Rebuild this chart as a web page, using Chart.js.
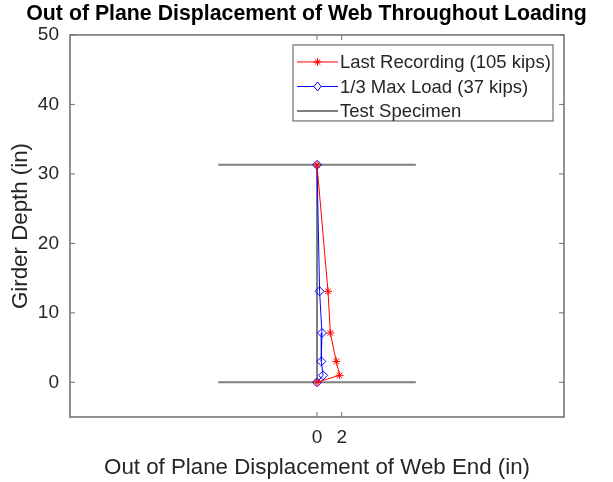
<!DOCTYPE html>
<html>
<head>
<meta charset="utf-8">
<script src="https://cdn.jsdelivr.net/npm/chart.js@4.4.1/dist/chart.umd.min.js"></script>
<style>
  html, body { margin: 0; padding: 0; background: #fff; }
</style>
</head>
<body>
<canvas id="myChart" width="613" height="482"></canvas>
<script>
// data
const depth = [31.3, 13.1, 7.1, 3.0, 1.0, 0];
const lastRecording = [0, 0.89, 1.08, 1.56, 1.83, 0];
const thirdMaxLoad = [0, 0.21, 0.40, 0.35, 0.49, 0];
const specimenX = [-8, 8, 0, 0, -8, 8];
const specimenY = [0, 0, 0, 31.3, 31.3, 31.3];
const xTicks = [0, 2];
const yTicks = [0, 10, 20, 30, 40, 50];
const seriesLabels = ['Last Recording (105 kips)', '1/3 Max Load (37 kips)', 'Test Specimen'];

const FONT = "'Liberation Sans', Arial, sans-serif";
const TEXT = '#262626';
const FRAME = '#6e6e6e';

const toPoints = (xs, ys) => xs.map((x, i) => ({ x: x, y: ys[i] }));

// MATLAB style box with inward ticks
const boxPlugin = {
    id: 'boxPlugin',
    afterDatasetsDraw(chart) {
        const { ctx, chartArea: a, scales } = chart;
        ctx.save();
        ctx.strokeStyle = FRAME;
        ctx.lineWidth = 1.5;
        ctx.strokeRect(a.left, a.top, a.right - a.left, a.bottom - a.top);
        ctx.lineWidth = 1;
        const len = 5;
        xTicks.forEach(v => {
            const px = scales.x.getPixelForValue(v);
            ctx.beginPath();
            ctx.moveTo(px, a.bottom); ctx.lineTo(px, a.bottom - len);
            ctx.moveTo(px, a.top); ctx.lineTo(px, a.top + len);
            ctx.stroke();
        });
        yTicks.forEach(v => {
            const py = scales.y.getPixelForValue(v);
            ctx.beginPath();
            ctx.moveTo(a.left, py); ctx.lineTo(a.left + len, py);
            ctx.moveTo(a.right, py); ctx.lineTo(a.right - len, py);
            ctx.stroke();
        });
        ctx.restore();
    }
};

// legend box in the top right corner of the axes
const legendPlugin = {
    id: 'boxLegend',
    afterDraw(chart) {
        const { ctx, chartArea: a } = chart;
        const w = 260, h = 76;
        const x0 = a.right - 11 - w, y0 = a.top + 10;
        ctx.save();
        ctx.fillStyle = '#fff';
        ctx.fillRect(x0, y0, w, h);
        ctx.strokeStyle = FRAME;
        ctx.lineWidth = 1.2;
        ctx.strokeRect(x0, y0, w, h);
        chart.data.datasets.forEach((ds, i) => {
            const cy = y0 + 17 + i * 24.5;
            const lx0 = x0 + 4, lx1 = x0 + 45, mx = (lx0 + lx1) / 2;
            ctx.strokeStyle = ds.borderColor;
            ctx.lineWidth = ds.borderWidth;
            ctx.beginPath();
            ctx.moveTo(lx0, cy); ctx.lineTo(lx1, cy);
            ctx.stroke();
            ctx.lineWidth = 1;
            if (ds.pointStyle === 'star') {
                const r = 4;
                ctx.beginPath();
                ctx.moveTo(mx - r, cy); ctx.lineTo(mx + r, cy);
                ctx.moveTo(mx, cy - r); ctx.lineTo(mx, cy + r);
                const d = r * Math.SQRT1_2;
                ctx.moveTo(mx - d, cy - d); ctx.lineTo(mx + d, cy + d);
                ctx.moveTo(mx - d, cy + d); ctx.lineTo(mx + d, cy - d);
                ctx.stroke();
            } else if (ds.pointStyle === 'rectRot') {
                const r = 4.5;
                ctx.fillStyle = '#fff';
                ctx.beginPath();
                ctx.moveTo(mx, cy - r); ctx.lineTo(mx + r * 0.8, cy);
                ctx.lineTo(mx, cy + r); ctx.lineTo(mx - r * 0.8, cy);
                ctx.closePath();
                ctx.fill();
                ctx.stroke();
            }
            ctx.fillStyle = TEXT;
            ctx.font = '18.5px ' + FONT;
            ctx.textAlign = 'left';
            ctx.textBaseline = 'middle';
            ctx.fillText(ds.label, x0 + 47, cy + 1);
        });
        ctx.restore();
    }
};

const ctx = document.getElementById('myChart').getContext('2d');
const myChart = new Chart(ctx, {
    type: 'line',
    data: {
        datasets: [{
            label: seriesLabels[0],
            data: toPoints(lastRecording, depth),
            borderColor: '#ff0000',
            backgroundColor: '#ff0000',
            borderWidth: 1,
            pointStyle: 'star',
            pointRadius: 4,
            pointBorderWidth: 1,
            order: 1
        }, {
            label: seriesLabels[1],
            data: toPoints(thirdMaxLoad, depth),
            borderColor: '#0000ff',
            backgroundColor: 'rgba(0,0,0,0)',
            borderWidth: 1,
            pointStyle: 'rectRot',
            pointRadius: 4.5,
            pointBorderWidth: 1,
            order: 2
        }, {
            label: seriesLabels[2],
            data: toPoints(specimenX, specimenY),
            borderColor: '#7f7f7f',
            backgroundColor: '#7f7f7f',
            borderWidth: 2,
            pointRadius: 0,
            order: 3
        }]
    },
    options: {
        responsive: false,
        animation: false,
        devicePixelRatio: 1,
        layout: { padding: 0 },
        elements: { line: { tension: 0, fill: false } },
        plugins: {
            legend: { display: false },
            tooltip: { enabled: false },
            title: {
                display: true,
                text: 'Out of Plane Displacement of Web Throughout Loading',
                color: '#000',
                font: { family: FONT, size: 21.3, weight: 'bold' },
                padding: { top: 1.5, bottom: 7.9 }
            }
        },
        scales: {
            x: {
                type: 'linear',
                min: -20,
                max: 20,
                grid: { display: false, drawTicks: false },
                border: { display: false },
                afterBuildTicks: scale => { scale.ticks = xTicks.map(v => ({ value: v })); },
                afterFit: scale => { scale.height = 65; },
                ticks: { color: TEXT, font: { family: FONT, size: 19 }, padding: 9, maxRotation: 0 },
                title: {
                    display: true,
                    text: 'Out of Plane Displacement of Web End (in)',
                    color: TEXT,
                    font: { family: FONT, size: 22.3 },
                    padding: { top: 0, bottom: 1 }
                }
            },
            y: {
                type: 'linear',
                min: -5,
                max: 50,
                grid: { display: false, drawTicks: false },
                border: { display: false },
                afterBuildTicks: scale => { scale.ticks = yTicks.map(v => ({ value: v })); },
                afterFit: scale => { scale.width = 70; },
                ticks: { color: TEXT, font: { family: FONT, size: 19 }, padding: 11 },
                title: {
                    display: true,
                    text: 'Girder Depth (in)',
                    color: TEXT,
                    font: { family: FONT, size: 22.3 },
                    padding: { top: 7, bottom: 7 }
                }
            },
            // empty strip on the right so the plot box ends where the reference does
            yRight: {
                type: 'linear',
                position: 'right',
                display: true,
                min: 0,
                max: 1,
                grid: { display: false, drawTicks: false },
                border: { display: false },
                ticks: { display: false },
                afterFit: scale => { scale.width = 49; }
            }
        }
    },
    plugins: [boxPlugin, legendPlugin]
});
</script>
</body>
</html>
